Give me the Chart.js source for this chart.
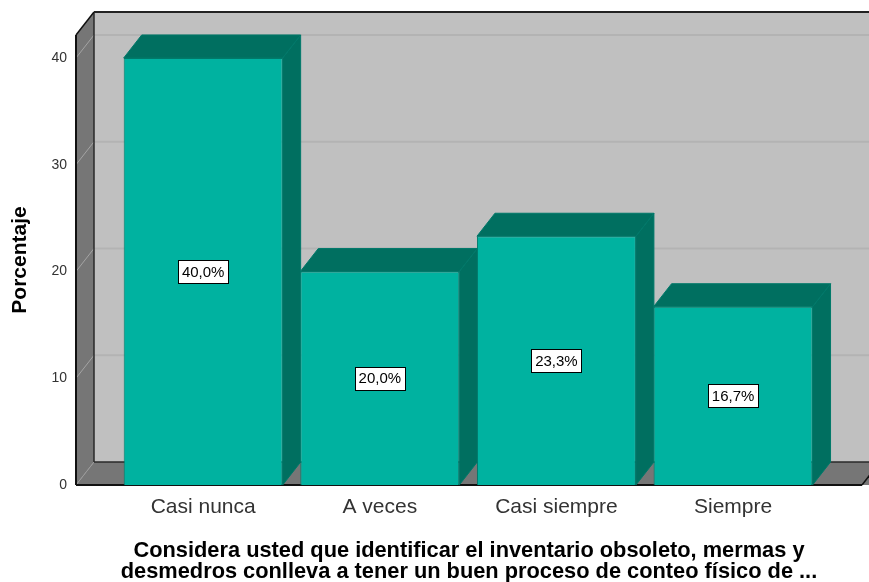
<!DOCTYPE html>
<html>
<head>
<meta charset="utf-8">
<script src="https://cdn.jsdelivr.net/npm/chart.js@4/dist/chart.umd.min.js"></script>
<style>
  html, body { margin: 0; padding: 0; background: #ffffff; }
  #wrap { width: 869px; height: 582px; }
</style>
</head>
<body>
<div id="wrap"><canvas id="chart" width="869" height="582"></canvas></div>
<script>
// Frequencies of the survey answer, in percent
const categories = ['Casi nunca', 'A veces', 'Casi siempre', 'Siempre'];
const percentages = [40.0, 20.0, 23.3, 16.7];
const yTicks = [0, 10, 20, 30, 40];
const valueLabels = ['40,0%', '20,0%', '23,3%', '16,7%'];
const yTitle = 'Porcentaje';
const xTitle = [
  'Considera usted que identificar el inventario obsoleto, mermas y',
  'desmedros conlleva a tener un buen proceso de conteo físico de ...'
];

const FONT = "'Liberation Sans', Arial, Helvetica, sans-serif";
// depth of the 3D box (pixels to the right and upwards)
const DX = 18, DY = 23;

const COLORS = {
  wall: '#c0c0c0',
  wallGrid: '#b3b3b3',
  side: '#767676',
  sideGrid: '#a4a4a4',
  barFront: '#00b2a0',
  barDark: '#006f60',
  barEdge: '#00796a'
};

function poly(ctx, pts, fill, stroke, lw) {
  ctx.beginPath();
  ctx.moveTo(pts[0][0], pts[0][1]);
  for (let i = 1; i < pts.length; i++) ctx.lineTo(pts[i][0], pts[i][1]);
  ctx.closePath();
  if (fill) { ctx.fillStyle = fill; ctx.fill(); }
  if (stroke) { ctx.strokeStyle = stroke; ctx.lineWidth = lw || 1; ctx.stroke(); }
}
function line(ctx, x1, y1, x2, y2, color, lw) {
  ctx.beginPath();
  ctx.moveTo(x1, y1);
  ctx.lineTo(x2, y2);
  ctx.strokeStyle = color;
  ctx.lineWidth = lw;
  ctx.stroke();
}

// Walls, floor and the depth faces of the bars
const box3d = {
  id: 'box3d',
  beforeDatasetsDraw(chart) {
    const { ctx, chartArea: { left, right, top, bottom }, scales: { y } } = chart;
    ctx.save();
    const far = right + DX + 40;
    // back wall
    ctx.fillStyle = COLORS.wall;
    ctx.fillRect(left + DX, top - DY, far - left - DX, bottom - top);
    // back wall grid lines
    yTicks.forEach(v => {
      if (v === 0) return;
      const py = y.getPixelForValue(v) - DY;
      line(ctx, left + DX, py, far, py, COLORS.wallGrid, 2);
    });
    // left wall
    poly(ctx, [[left, top], [left + DX, top - DY], [left + DX, bottom - DY], [left, bottom]], COLORS.side);
    yTicks.forEach(v => {
      if (v === 0) return;
      const py = y.getPixelForValue(v);
      line(ctx, left, py, left + DX, py - DY, COLORS.sideGrid, 1);
    });
    // floor
    poly(ctx, [[left, bottom], [left + DX, bottom - DY], [far, bottom - DY], [far - DX, bottom], [right, bottom]], COLORS.side);
    // edges
    line(ctx, left, bottom, left + DX, bottom - DY, '#9a9a9a', 1);
    line(ctx, left + DX, top - DY, left + DX, bottom - DY, '#2a2a2a', 1.5);
    line(ctx, left + DX, bottom - DY, far, bottom - DY, '#2a2a2a', 1.5);
    line(ctx, left, top, left + DX, top - DY, '#111', 1.5);
    line(ctx, left + DX, top - DY, far, top - DY, '#222', 2);
    line(ctx, left, top, left, bottom, '#111', 2);
    line(ctx, left, bottom, right, bottom, '#111', 2);
    line(ctx, right, bottom, right + DX, bottom - DY, '#111', 1.5);

    // bar tops and right-hand sides
    const meta = chart.getDatasetMeta(0);
    meta.data.forEach(bar => {
      const l = bar.x - bar.width / 2, r = bar.x + bar.width / 2;
      const t = bar.y, b = bar.base;
      poly(ctx, [[r, t], [r + DX, t - DY], [r + DX, b - DY], [r, b]], COLORS.barDark, COLORS.barEdge, 1);
      poly(ctx, [[l, t], [l + DX, t - DY], [r + DX, t - DY], [r, t]], COLORS.barDark, COLORS.barEdge, 1);
    });
    ctx.restore();
  },
  afterDatasetsDraw(chart) {
    const { ctx } = chart;
    const meta = chart.getDatasetMeta(0);
    ctx.save();
    ctx.font = '15px ' + FONT;
    ctx.textAlign = 'center';
    ctx.textBaseline = 'middle';
    meta.data.forEach((bar, i) => {
      const text = valueLabels[i];
      const cy = (bar.y + bar.base) / 2;
      const w = Math.round(ctx.measureText(text).width) + 7;
      const h = 23;
      const bx = Math.round(bar.x - w / 2) + 0.5, by = Math.round(cy - h / 2) + 0.5;
      ctx.fillStyle = '#ffffff';
      ctx.fillRect(bx, by, w, h);
      ctx.strokeStyle = '#000000';
      ctx.lineWidth = 1;
      ctx.strokeRect(bx, by, w, h);
      ctx.fillStyle = '#000000';
      ctx.fillText(text, bar.x, cy + 1);
    });
    ctx.restore();
  }
};

new Chart(document.getElementById('chart'), {
  type: 'bar',
  data: {
    datasets: [{
      data: percentages.map((v, i) => ({ x: i, y: v })),
      backgroundColor: COLORS.barFront,
      borderColor: COLORS.barEdge,
      borderWidth: 1,
      borderSkipped: 'bottom',
      barPercentage: 0.9,
      categoryPercentage: 1.0
    }]
  },
  options: {
    responsive: false,
    animation: false,
    devicePixelRatio: 1,
    layout: { padding: { top: 35, right: 7, left: 0, bottom: 0 } },
    plugins: {
      legend: { display: false },
      tooltip: { enabled: false }
    },
    scales: {
      x: {
        type: 'linear',
        offset: false,
        min: -0.72,
        max: 3.73,
        grid: { display: false, drawTicks: false, offset: false },
        border: { display: false },
        afterBuildTicks: s => { s.ticks = categories.map((_, i) => ({ value: i })); },
        afterFit: s => { s.height = 97; },
        ticks: {
          autoSkip: false,
          maxRotation: 0,
          padding: 10,
          color: '#333333',
          font: { family: FONT, size: 21 },
          callback: v => categories[v]
        },
        title: {
          display: true,
          text: xTitle,
          color: '#000000',
          font: { family: FONT, size: 21.8, weight: 'bold', lineHeight: '20.5px' },
          padding: { top: 0, bottom: 0 }
        }
      },
      y: {
        min: 0,
        max: 42.15,
        grid: { display: false, drawTicks: false },
        border: { display: false },
        afterBuildTicks: s => { s.ticks = yTicks.map(v => ({ value: v })); },
        afterFit: s => { s.width = 76; },
        ticks: {
          padding: 9,
          color: '#333333',
          font: { family: FONT, size: 14 }
        },
        title: {
          display: true,
          text: yTitle,
          color: '#000000',
          font: { family: FONT, size: 21, weight: 'bold', lineHeight: 1 },
          padding: { top: 10, bottom: 0 }
        }
      }
    }
  },
  plugins: [box3d]
});
</script>
</body>
</html>
